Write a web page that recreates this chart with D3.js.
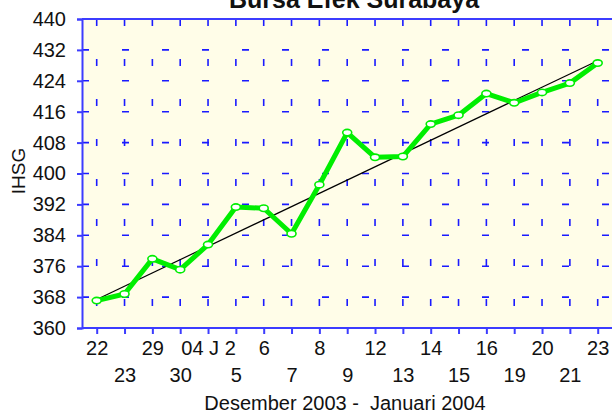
<!DOCTYPE html>
<html>
<head>
<meta charset="utf-8">
<script src="https://cdn.jsdelivr.net/npm/d3@7"></script>
<style>
  html, body { margin: 0; padding: 0; background: #fff; }
  svg { display: block; font-family: Arial, "Liberation Sans", sans-serif; }
</style>
</head>
<body>
<div id="chart"></div>
<script>
// IHSG Bursa Efek Surabaya, Des 2003 - Jan 2004
var dateLabels = ['22', '23', '29', '30', '04 J 2', '5', '6', '7', '8', '9',
                  '12', '13', '14', '15', '16', '19', '20', '21', '23'];
var ihsg = [367.1, 368.8, 377.9, 375.1, 381.6, 391.3, 391.0, 384.4, 397.1, 410.6,
            404.2, 404.4, 412.8, 415.1, 420.7, 418.3, 421.0, 423.4, 428.6];
var trendEnds = [367.4, 429.2];
var yTicks = [360, 368, 376, 384, 392, 400, 408, 416, 424, 432, 440];

var width = 612, height = 413;
var plot = { left: 82, right: 612, top: 19, bottom: 328 };
var axisColor = '#3c3cff';
var gridColor = '#1a1aff';

var svg = d3.select('#chart').append('svg')
  .attr('width', width)
  .attr('height', height);

var x = d3.scaleLinear().domain([0, dateLabels.length - 1]).range([96.7, 597.7]);
var y = d3.scaleLinear().domain([360, 440]).range([plot.bottom, plot.top]);

// plot background
svg.append('rect')
  .attr('x', plot.left).attr('y', plot.top)
  .attr('width', plot.right - plot.left).attr('height', plot.bottom - plot.top)
  .attr('fill', '#fffde8');

// dashed grid
var grid = svg.append('g').attr('class', 'grid')
  .attr('stroke', gridColor).attr('stroke-width', 1.6)
  .attr('stroke-dasharray', '7,33');

grid.selectAll('line.h')
  .data(yTicks.slice(1, -1))
  .join('line')
    .attr('class', 'h')
    .attr('x1', plot.left).attr('x2', plot.right)
    .attr('y1', function (d) { return y(d); })
    .attr('y2', function (d) { return y(d); });

grid.selectAll('line.v')
  .data(dateLabels.map(function (d, i) { return i; }))
  .join('line')
    .attr('class', 'v')
    .attr('y1', plot.top).attr('y2', plot.bottom)
    .attr('x1', function (d) { return x(d); })
    .attr('x2', function (d) { return x(d); });

// top border
svg.append('line')
  .attr('x1', plot.left).attr('x2', plot.right)
  .attr('y1', plot.top).attr('y2', plot.top)
  .attr('stroke', axisColor).attr('stroke-width', 2);

// y axis
var yAxis = svg.append('g')
  .attr('transform', 'translate(' + plot.left + ',0)')
  .call(d3.axisLeft(y).tickValues(yTicks).tickSize(5).tickPadding(11));
yAxis.select('.domain').attr('stroke', axisColor).attr('stroke-width', 2);
yAxis.selectAll('.tick line').attr('stroke', axisColor).attr('stroke-width', 2);
yAxis.selectAll('.tick text')
  .attr('font-size', '20px')
  .attr('font-family', 'Arial, "Liberation Sans", sans-serif')
  .attr('fill', '#111');

// x axis with two label rows
var xAxis = svg.append('g')
  .attr('transform', 'translate(0,' + plot.bottom + ')')
  .call(d3.axisBottom(x)
    .tickValues(dateLabels.map(function (d, i) { return i; }))
    .tickFormat(function (i) { return dateLabels[i]; })
    .tickSize(6).tickPadding(0));
xAxis.select('.domain')
  .attr('d', 'M' + plot.left + ',0H' + plot.right)
  .attr('stroke', axisColor).attr('stroke-width', 2);
xAxis.selectAll('.tick line').attr('stroke', axisColor).attr('stroke-width', 2);
xAxis.selectAll('.tick text')
  .attr('font-size', '20px')
  .attr('font-family', 'Arial, "Liberation Sans", sans-serif')
  .attr('fill', '#111')
  .attr('dy', null)
  .attr('y', function (d, i) { return i % 2 === 0 ? 27 : 54; });

// trend line
svg.append('line')
  .attr('x1', x(0)).attr('y1', y(trendEnds[0]))
  .attr('x2', x(dateLabels.length - 1)).attr('y2', y(trendEnds[1]))
  .attr('stroke', '#000').attr('stroke-width', 1.2);

// data line
var line = d3.line()
  .x(function (d, i) { return x(i); })
  .y(function (d) { return y(d); });

svg.append('path')
  .datum(ihsg)
  .attr('d', line)
  .attr('fill', 'none')
  .attr('stroke', '#00ee00')
  .attr('stroke-width', 5)
  .attr('stroke-linejoin', 'round');

svg.append('g').selectAll('ellipse')
  .data(ihsg)
  .join('ellipse')
    .attr('cx', function (d, i) { return x(i); })
    .attr('cy', function (d) { return y(d); })
    .attr('rx', 4.5).attr('ry', 3.2)
    .attr('fill', '#fff')
    .attr('stroke', '#00ee00')
    .attr('stroke-width', 1.6);

// titles (title is cut by the top edge, as in the original)
svg.append('text')
  .attr('x', 354).attr('y', 8)
  .attr('text-anchor', 'middle')
  .attr('font-size', '25px')
  .attr('font-weight', 'bold')
  .attr('fill', '#111')
  .text('Bursa Efek Surabaya');

svg.append('text')
  .attr('x', 345).attr('y', 410)
  .attr('text-anchor', 'middle')
  .attr('font-size', '20px')
  .attr('fill', '#111')
  .style('white-space', 'pre')
  .text('Desember 2003 -  Januari 2004');

svg.append('text')
  .attr('transform', 'translate(25,171) rotate(-90)')
  .attr('text-anchor', 'middle')
  .attr('font-size', '19px')
  .attr('fill', '#111')
  .text('IHSG');
</script>
</body>
</html>
